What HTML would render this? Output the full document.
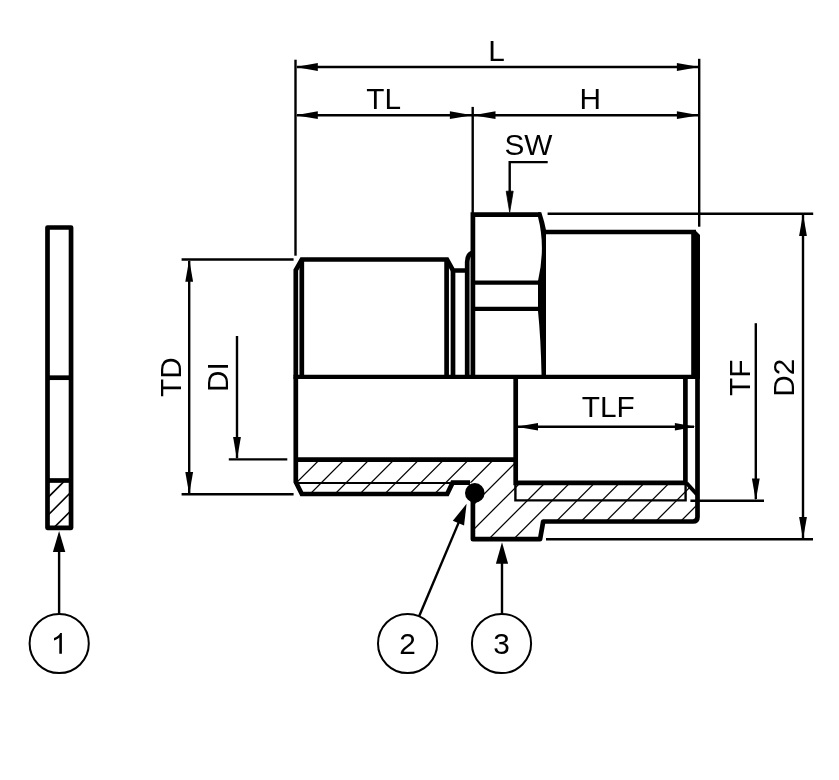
<!DOCTYPE html>
<html><head><meta charset="utf-8"><title>Fitting drawing</title>
<style>
html,body{margin:0;padding:0;background:#fff;}
body{width:839px;height:780px;overflow:hidden;}
svg{display:block;}
text{font-family:"Liberation Sans",sans-serif;fill:#000;}
svg{will-change:transform;}
</style></head><body>
<svg width="839" height="780" viewBox="0 0 839 780">
<rect width="839" height="780" fill="#fff"/>
<defs><clipPath id="cb"><polygon points="295.8,459.7 515.7,459.7 515.7,482.9 685.4,482.9 697.5,494 697.5,521.5 543.2,521.5 540.1,539.2 472.9,539.2 472.9,482.7 452.6,482.7 447.2,494 301.8,494 295.8,482"/></clipPath><clipPath id="cw"><rect x="47.5" y="480.5" width="23.6" height="47.3"/></clipPath></defs>
<g clip-path="url(#cb)">
<line x1="324.2" y1="455" x2="234.2" y2="545" stroke="#000" stroke-width="1.25" stroke-linecap="butt" />
<line x1="349.07" y1="455" x2="259.07" y2="545" stroke="#000" stroke-width="1.25" stroke-linecap="butt" />
<line x1="373.94" y1="455" x2="283.94" y2="545" stroke="#000" stroke-width="1.25" stroke-linecap="butt" />
<line x1="398.81" y1="455" x2="308.81" y2="545" stroke="#000" stroke-width="1.25" stroke-linecap="butt" />
<line x1="423.68" y1="455" x2="333.68" y2="545" stroke="#000" stroke-width="1.25" stroke-linecap="butt" />
<line x1="448.55" y1="455" x2="358.55" y2="545" stroke="#000" stroke-width="1.25" stroke-linecap="butt" />
<line x1="473.42" y1="455" x2="383.42" y2="545" stroke="#000" stroke-width="1.25" stroke-linecap="butt" />
<line x1="498.29" y1="455" x2="408.29" y2="545" stroke="#000" stroke-width="1.25" stroke-linecap="butt" />
<line x1="523.16" y1="455" x2="433.16" y2="545" stroke="#000" stroke-width="1.25" stroke-linecap="butt" />
<line x1="548.03" y1="455" x2="458.03" y2="545" stroke="#000" stroke-width="1.25" stroke-linecap="butt" />
<line x1="572.9" y1="455" x2="482.9" y2="545" stroke="#000" stroke-width="1.25" stroke-linecap="butt" />
<line x1="597.77" y1="455" x2="507.77" y2="545" stroke="#000" stroke-width="1.25" stroke-linecap="butt" />
<line x1="622.64" y1="455" x2="532.64" y2="545" stroke="#000" stroke-width="1.25" stroke-linecap="butt" />
<line x1="647.51" y1="455" x2="557.51" y2="545" stroke="#000" stroke-width="1.25" stroke-linecap="butt" />
<line x1="672.38" y1="455" x2="582.38" y2="545" stroke="#000" stroke-width="1.25" stroke-linecap="butt" />
<line x1="697.25" y1="455" x2="607.25" y2="545" stroke="#000" stroke-width="1.25" stroke-linecap="butt" />
<line x1="722.12" y1="455" x2="632.12" y2="545" stroke="#000" stroke-width="1.25" stroke-linecap="butt" />
<line x1="746.99" y1="455" x2="656.99" y2="545" stroke="#000" stroke-width="1.25" stroke-linecap="butt" />
<line x1="771.86" y1="455" x2="681.86" y2="545" stroke="#000" stroke-width="1.25" stroke-linecap="butt" />
</g>
<g clip-path="url(#cw)">
<line x1="67.5" y1="478" x2="15.5" y2="530" stroke="#000" stroke-width="1.6" stroke-linecap="butt" />
<line x1="85.2" y1="478" x2="33.2" y2="530" stroke="#000" stroke-width="1.6" stroke-linecap="butt" />
<line x1="103.6" y1="478" x2="51.6" y2="530" stroke="#000" stroke-width="1.6" stroke-linecap="butt" />
</g>
<rect x="47.5" y="227.5" width="23.55" height="300.3" fill="none" stroke="#000" stroke-width="4.7" stroke-linejoin="round"/>
<line x1="47.5" y1="377.7" x2="71.05" y2="377.7" stroke="#000" stroke-width="4.7" stroke-linecap="butt" />
<line x1="47.5" y1="480.5" x2="71.05" y2="480.5" stroke="#000" stroke-width="4.7" stroke-linecap="butt" />
<line x1="295.8" y1="483.0" x2="451.8" y2="483.0" stroke="#000" stroke-width="2.2" stroke-linecap="butt" />
<path d="M515.4,483 V500.4 H685.6 V483" fill="none" stroke="#000" stroke-width="2.4" stroke-linejoin="miter" stroke-linecap="butt" />
<path d="M295.8,376.8 V270 L301.8,259.5 H447 L453,270.5 H467.2" fill="none" stroke="#000" stroke-width="4.7" stroke-linejoin="miter" stroke-linecap="butt" />
<line x1="301.8" y1="259.5" x2="301.8" y2="376.8" stroke="#000" stroke-width="4.7" stroke-linecap="butt" />
<line x1="446.6" y1="259.5" x2="446.6" y2="376.8" stroke="#000" stroke-width="4.7" stroke-linecap="butt" />
<line x1="453" y1="270.5" x2="453" y2="376.8" stroke="#000" stroke-width="4.7" stroke-linecap="butt" />
<path d="M467.2,376.8 V262 Q467.2,254 473.5,252.5" fill="none" stroke="#000" stroke-width="4.7" stroke-linejoin="miter" stroke-linecap="butt" />
<path d="M472.9,376.8 V214.6 H540.5" fill="none" stroke="#000" stroke-width="4.7" stroke-linejoin="miter" stroke-linecap="butt" />
<line x1="472.9" y1="282.7" x2="540" y2="282.7" stroke="#000" stroke-width="4.3" stroke-linecap="butt" />
<line x1="472.9" y1="308.8" x2="540" y2="308.8" stroke="#000" stroke-width="4.3" stroke-linecap="butt" />
<path d="M538,212.3 L541.3,212.3 Q544.5,222 546,230 V376.8 H541.6 Q540.8,338 538,311 V281 Q545.8,247 538,217 Z" fill="#000"/>
<line x1="545" y1="232" x2="696" y2="232" stroke="#000" stroke-width="4.3" stroke-linecap="butt" />
<path d="M691.2,229.9 H695 L700,234.9 V376.8 H691.2 Z" fill="#000"/>
<line x1="293.5" y1="376.8" x2="700" y2="376.8" stroke="#000" stroke-width="4.3" stroke-linecap="butt" />
<path d="M295.8,376.8 V482 L301.8,494 H447.2 L452.6,482.7 H470" fill="none" stroke="#000" stroke-width="4.7" stroke-linejoin="miter" stroke-linecap="butt" />
<line x1="295.8" y1="459.7" x2="518" y2="459.7" stroke="#000" stroke-width="4.7" stroke-linecap="butt" />
<path d="M515.7,376.8 V482.9 H685.4" fill="none" stroke="#000" stroke-width="4.7" stroke-linejoin="miter" stroke-linecap="butt" />
<line x1="685.4" y1="376.8" x2="685.4" y2="485" stroke="#000" stroke-width="4.7" stroke-linecap="butt" />
<line x1="686.5" y1="483" x2="697" y2="494.5" stroke="#000" stroke-width="4" stroke-linecap="butt" />
<path d="M697.5,376.8 V517 Q697.5,521.5 693,521.5 H543.2 L540.1,539.2 H472.9 V492" fill="none" stroke="#000" stroke-width="4.7" stroke-linejoin="round" stroke-linecap="butt" />
<circle cx="474.8" cy="492.9" r="9.8" fill="#000"/>
<line x1="295.5" y1="59.7" x2="295.5" y2="255.7" stroke="#000" stroke-width="2.4" stroke-linecap="butt" />
<line x1="699.2" y1="58.8" x2="699.2" y2="226.7" stroke="#000" stroke-width="2.4" stroke-linecap="butt" />
<line x1="472.7" y1="106.9" x2="472.7" y2="214" stroke="#000" stroke-width="2.4" stroke-linecap="butt" />
<line x1="297" y1="67" x2="698" y2="67" stroke="#000" stroke-width="2.4" stroke-linecap="butt" />
<polygon points="295.50,67.00 317.80,63.10 317.80,70.90" fill="#000"/>
<polygon points="699.20,67.00 676.90,70.90 676.90,63.10" fill="#000"/>
<line x1="297" y1="115.2" x2="698" y2="115.2" stroke="#000" stroke-width="2.4" stroke-linecap="butt" />
<polygon points="295.50,115.20 317.80,111.30 317.80,119.10" fill="#000"/>
<polygon points="472.20,115.20 449.90,119.10 449.90,111.30" fill="#000"/>
<polygon points="473.20,115.20 495.50,111.30 495.50,119.10" fill="#000"/>
<polygon points="699.20,115.20 676.90,119.10 676.90,111.30" fill="#000"/>
<path d="M547.7,162.1 H509.7 V200" fill="none" stroke="#000" stroke-width="2.4" stroke-linejoin="miter" stroke-linecap="butt" />
<path d="M509.7,212.2 L506.2,191.2 H513.2 Z" fill="#000" stroke="#000" stroke-width="0.8" stroke-linejoin="miter"/>
<line x1="547.6" y1="213.7" x2="813.2" y2="213.7" stroke="#000" stroke-width="2.4" stroke-linecap="butt" />
<line x1="546" y1="539.3" x2="813" y2="539.3" stroke="#000" stroke-width="2.4" stroke-linecap="butt" />
<line x1="803" y1="215" x2="803" y2="538" stroke="#000" stroke-width="2.4" stroke-linecap="butt" />
<polygon points="803.00,213.70 806.90,236.00 799.10,236.00" fill="#000"/>
<polygon points="803.00,539.30 799.10,517.00 806.90,517.00" fill="#000"/>
<line x1="755.8" y1="323.2" x2="755.8" y2="499" stroke="#000" stroke-width="2.4" stroke-linecap="butt" />
<polygon points="755.80,500.70 751.90,478.40 759.70,478.40" fill="#000"/>
<line x1="690.4" y1="500.8" x2="764" y2="500.8" stroke="#000" stroke-width="2.4" stroke-linecap="butt" />
<line x1="181.6" y1="259.5" x2="293.6" y2="259.5" stroke="#000" stroke-width="2.4" stroke-linecap="butt" />
<line x1="181.6" y1="494.2" x2="293.6" y2="494.2" stroke="#000" stroke-width="2.4" stroke-linecap="butt" />
<line x1="189.2" y1="261" x2="189.2" y2="493" stroke="#000" stroke-width="2.4" stroke-linecap="butt" />
<polygon points="189.20,259.50 193.10,281.80 185.30,281.80" fill="#000"/>
<polygon points="189.20,494.20 185.30,471.90 193.10,471.90" fill="#000"/>
<line x1="237" y1="336" x2="237" y2="458" stroke="#000" stroke-width="2.4" stroke-linecap="butt" />
<polygon points="237.00,459.40 233.10,437.10 240.90,437.10" fill="#000"/>
<line x1="228.8" y1="459.4" x2="287.3" y2="459.4" stroke="#000" stroke-width="2.4" stroke-linecap="butt" />
<line x1="518" y1="426.8" x2="694" y2="426.8" stroke="#000" stroke-width="2.4" stroke-linecap="butt" />
<polygon points="516.50,426.80 538.00,423.10 538.00,430.50" fill="#000"/>
<polygon points="695.40,426.80 674.90,430.50 674.90,423.10" fill="#000"/>
<circle cx="59.2" cy="643.5" r="29.6" fill="#fff" stroke="#000" stroke-width="2"/>
<path d="M61.9,653.7 H59.3 V637.5 Q58.4,638.4 56.9,639.25 Q55.4,640.15 54.0,640.6 V638.1 Q56.4,637.1 58,635.7 Q59.6,634.25 60.2,632.9 H61.9 Z" fill="#000"/>
<text x="59.2" y="653.7" font-size="29.8" text-anchor="middle" fill="none" style="fill:none" aria-label="1">1</text>
<circle cx="407.6" cy="643.5" r="29.6" fill="#fff" stroke="#000" stroke-width="2"/>
<text x="407.6" y="653.7" font-size="29.8" text-anchor="middle">2</text>
<circle cx="501.5" cy="643.5" r="29.6" fill="#fff" stroke="#000" stroke-width="2"/>
<text x="501.5" y="653.7" font-size="29.8" text-anchor="middle">3</text>
<line x1="59.1" y1="614" x2="59.1" y2="545" stroke="#000" stroke-width="2.4" stroke-linecap="butt" />
<polygon points="59.10,531.00 65.30,552.00 52.90,552.00" fill="#000"/>
<line x1="502" y1="614" x2="502" y2="556" stroke="#000" stroke-width="2.4" stroke-linecap="butt" />
<polygon points="502.00,542.30 508.10,563.80 495.90,563.80" fill="#000"/>
<line x1="419.12" y1="616.23" x2="460.76" y2="517.62" stroke="#000" stroke-width="2.4" stroke-linecap="butt" />
<polygon points="466.60,503.80 464.05,525.52 452.81,520.77" fill="#000"/>
<text x="496.5" y="60.5" font-size="29.8" text-anchor="middle">L</text>
<text x="383.6" y="108.7" font-size="29.8" text-anchor="middle">TL</text>
<text x="590.3" y="108.7" font-size="29.8" text-anchor="middle">H</text>
<text x="528.5" y="154.6" font-size="29.8" text-anchor="middle">SW</text>
<text x="608.3" y="417.2" font-size="29.8" text-anchor="middle">TLF</text>
<text x="181" y="377.2" font-size="29.8" text-anchor="middle" transform="rotate(-90 181 377.2)">TD</text>
<text x="227.8" y="377.0" font-size="29.8" text-anchor="middle" transform="rotate(-90 227.8 377.0)">DI</text>
<text x="749.9" y="377.8" font-size="29.8" text-anchor="middle" transform="rotate(-90 749.9 377.8)">TF</text>
<text x="794.2" y="377.8" font-size="29.8" text-anchor="middle" transform="rotate(-90 794.2 377.8)">D2</text>
</svg>
</body></html>
